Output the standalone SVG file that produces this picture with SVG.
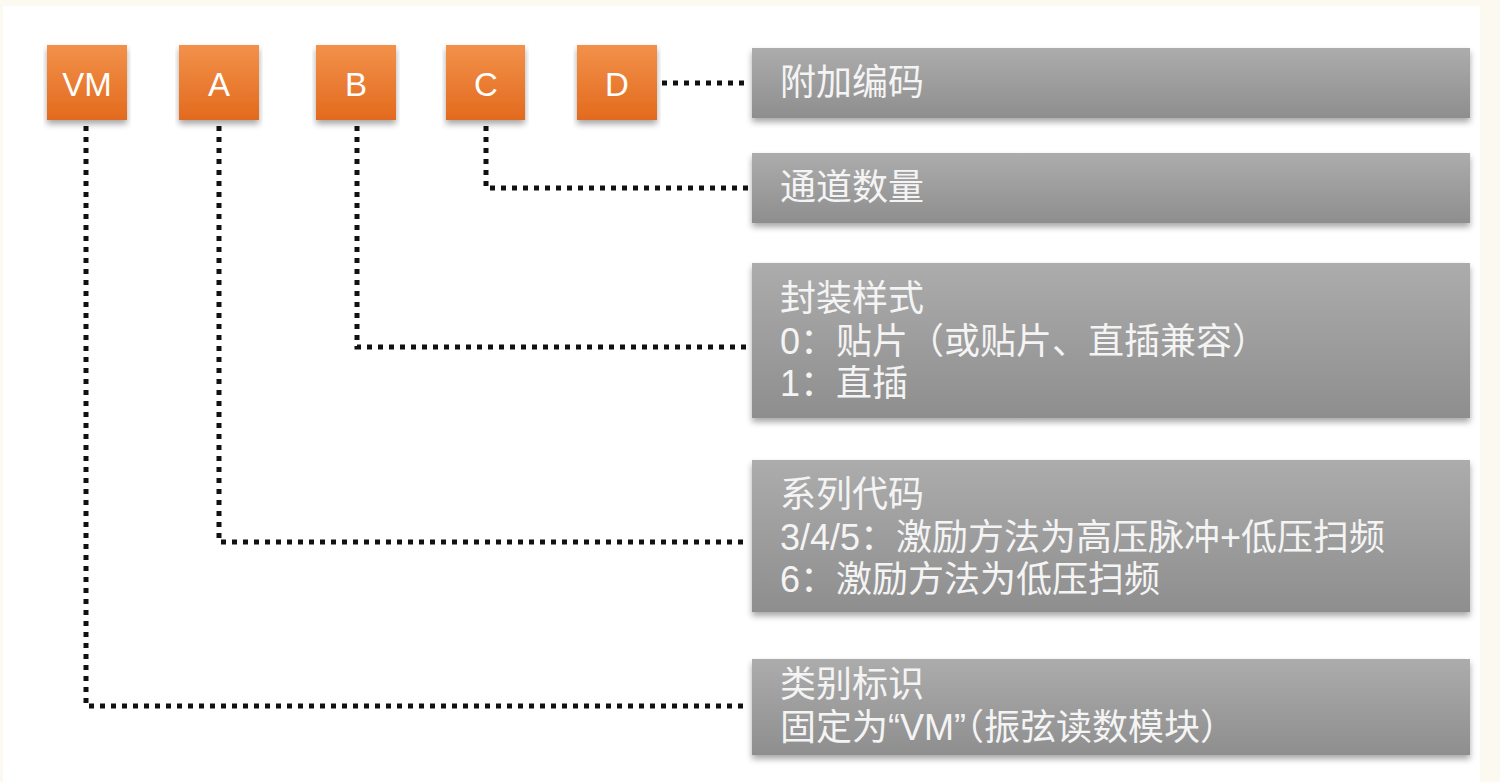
<svg xmlns="http://www.w3.org/2000/svg" width="1500" height="782" viewBox="0 0 1500 782">
<style>
.tag text{font-family:"Liberation Sans Narrow","Liberation Sans","Noto Sans",sans-serif;font-size:33px;fill:#ffffff;text-anchor:middle}
.info text{font-family:"Liberation Sans","Noto Sans CJK SC",sans-serif;font-size:36px;fill:#f4f4f4}
.conn{fill:none;stroke:#111;stroke-width:5;stroke-dasharray:5 6}
</style>
<defs>
<linearGradient id="og" x1="0" y1="0" x2="0" y2="1"><stop offset="0" stop-color="#f2914a"/><stop offset="1" stop-color="#e36a1e"/></linearGradient>
<linearGradient id="gg" x1="0" y1="0" x2="0" y2="1"><stop offset="0" stop-color="#acacac"/><stop offset="1" stop-color="#8e8e8e"/></linearGradient>
<filter id="sh" x="-5%" y="-10%" width="110%" height="130%"><feDropShadow dx="0" dy="4" stdDeviation="3" flood-color="#000" flood-opacity="0.35"/></filter>
</defs>
<rect width="1500" height="782" fill="#fcfaf0"/>
<rect x="3" y="6" width="1477" height="776" fill="#ffffff"/>
<g id="connectors">
<path class="conn" d="M662 83 H748"/>
<path class="conn" d="M486 126 V188 H748"/>
<path class="conn" d="M357 126 V347 H748"/>
<path class="conn" d="M219 126 V542 H748"/>
<path class="conn" d="M86 126 V706 H748"/>
</g>
<g id="tag-VM" class="tag"><rect x="47" y="45" width="80" height="75" fill="url(#og)" filter="url(#sh)"/><text x="87" y="96">VM</text></g>
<g id="tag-A" class="tag"><rect x="179" y="45" width="80" height="75" fill="url(#og)" filter="url(#sh)"/><text x="219" y="96">A</text></g>
<g id="tag-B" class="tag"><rect x="316" y="45" width="80" height="75" fill="url(#og)" filter="url(#sh)"/><text x="356" y="96">B</text></g>
<g id="tag-C" class="tag"><rect x="446" y="45" width="79" height="75" fill="url(#og)" filter="url(#sh)"/><text x="486" y="96">C</text></g>
<g id="tag-D" class="tag"><rect x="577" y="45" width="80" height="75" fill="url(#og)" filter="url(#sh)"/><text x="617" y="96">D</text></g>
<g id="info-D" class="info"><rect x="752" y="48" width="718" height="70" fill="url(#gg)" filter="url(#sh)"/><text x="780" y="95">附加编码</text></g>
<g id="info-C" class="info"><rect x="752" y="153" width="718" height="70" fill="url(#gg)" filter="url(#sh)"/><text x="780" y="200">通道数量</text></g>
<g id="info-B" class="info"><rect x="752" y="263" width="718" height="155" fill="url(#gg)" filter="url(#sh)"/><text x="780" y="311">封装样式</text><text x="780" y="354">0：贴片（或贴片、直插兼容）</text><text x="780" y="396">1：直插</text></g>
<g id="info-A" class="info"><rect x="752" y="460" width="718" height="152" fill="url(#gg)" filter="url(#sh)"/><text x="780" y="507">系列代码</text><text x="780" y="550">3/4/5：激励方法为高压脉冲+低压扫频</text><text x="780" y="592">6：激励方法为低压扫频</text></g>
<g id="info-VM" class="info"><rect x="752" y="659" width="718" height="96" fill="url(#gg)" filter="url(#sh)"/><text x="780" y="697">类别标识</text><text x="780" y="740">固定为“VM”（振弦读数模块）</text></g>
</svg>
